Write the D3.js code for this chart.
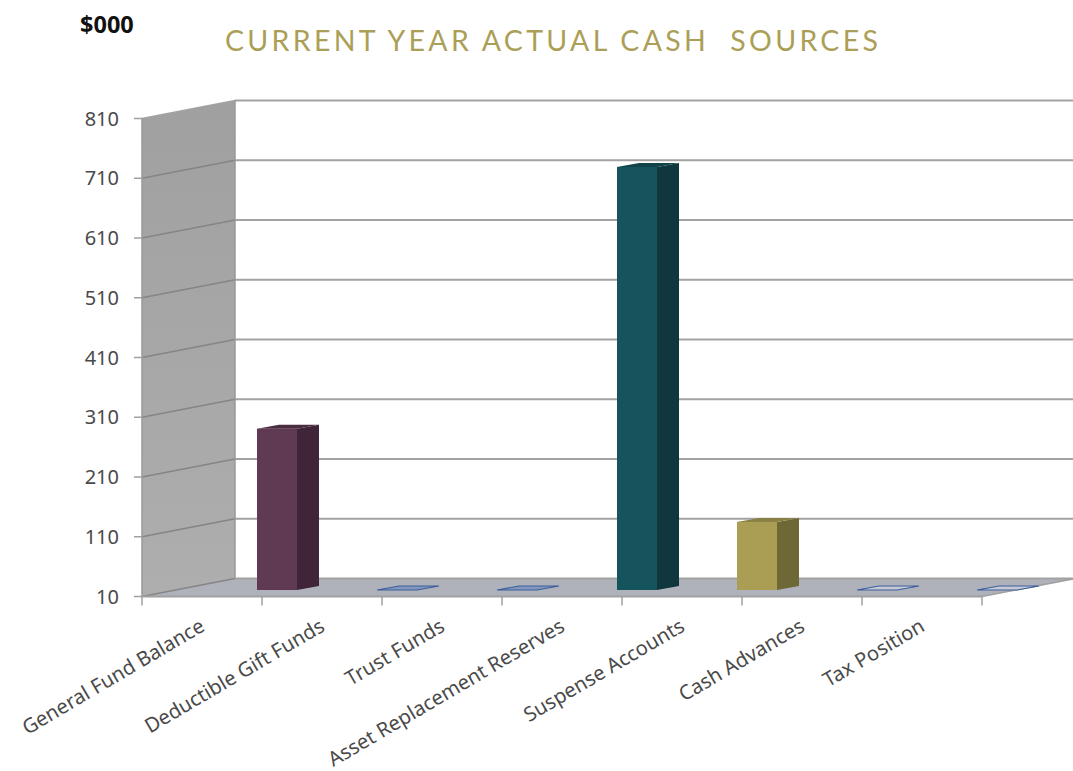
<!DOCTYPE html>
<html>
<head>
<meta charset="utf-8">
<style>
html,body{margin:0;padding:0;background:#fff}
svg{display:block}
</style>
<script src="https://cdn.jsdelivr.net/npm/d3@7"></script>
</head>
<body>
<svg id="chart" width="1073" height="771"></svg>
<script>
// Chart content
const categories = ["General Fund Balance","Deductible Gift Funds","Trust Funds","Asset Replacement Reserves","Suspense Accounts","Cash Advances","Tax Position"];
const values = [280, 0, 0, 718, 124, 0, 0];
const frontColors = ["#5f3a52","#5a7fb8","#5a7fb8","#15545c","#aa9e54","#f2f4f8","#f2f4f8"];
const sideColors = ["#3f2537","#3a5f9c","#3a5f9c","#0f373d","#6e6837","#3a5f9c","#3a5f9c"];
const topColors = ["#4b2d41","#3a5f9c","#3a5f9c","#10434a","#8a8045","#3a5f9c","#3a5f9c"];
const tickValues = [10,110,210,310,410,510,610,710,810];
const chartTitle = "CURRENT YEAR ACTUAL CASH  SOURCES";
const unitLabel = "$000";

// Oblique projection of the 3D box
const width = 1073, plotLeft = 142, plotRight = 982, baseY = 596.5, topY = 118.5;
const wallDx = 93, wallDy = -18;      // back wall offset from the front plane
const barDx = 22, barDy = -4;         // depth of each column
const barShiftX = 115, barShiftY = -6.5, barW = 40; // column seat within its band

const svg = d3.select("#chart");
const x = d3.scaleBand().domain(categories).range([plotLeft, plotRight]);
const y = d3.scaleLinear().domain([10, 810]).range([baseY, topY]).clamp(true);
const gridColor = "#a2a2a2";
const poly = pts => pts.map(p => p.join(",")).join(" ");

// Side wall shading runs slightly lighter toward the floor
const wallGrad = svg.append("defs").append("linearGradient")
  .attr("id", "wallShade").attr("x1", 0).attr("y1", 0).attr("x2", 0).attr("y2", 1);
wallGrad.append("stop").attr("offset", 0).attr("stop-color", "#a0a0a0");
wallGrad.append("stop").attr("offset", 1).attr("stop-color", "#aeaeae");

// Side wall and floor
svg.append("polygon").attr("fill", "url(#wallShade)")
  .attr("points", poly([[plotLeft, topY],[plotLeft + wallDx, topY + wallDy],[plotLeft + wallDx, baseY + wallDy],[plotLeft, baseY]]));
svg.append("polygon").attr("fill", "#b0b2bb")
  .attr("points", poly([[plotLeft, baseY],[plotRight, baseY],[plotRight + wallDx, baseY + wallDy],[plotLeft + wallDx, baseY + wallDy]]));

// Gridlines: along the wall, then across the back
const grid = svg.append("g").attr("fill", "none");
grid.selectAll(".back").data(tickValues).join("line").attr("class", "back")
  .attr("stroke", gridColor).attr("stroke-width", 2)
  .attr("x1", plotLeft + wallDx).attr("x2", width)
  .attr("y1", d => y(d) + wallDy).attr("y2", d => y(d) + wallDy);
grid.selectAll(".wall").data(tickValues).join("line").attr("class", "wall")
  .attr("stroke", d => d === 810 ? gridColor : "#858585").attr("stroke-width", 1.6)
  .attr("x1", plotLeft).attr("x2", plotLeft + wallDx)
  .attr("y1", d => y(d)).attr("y2", d => y(d) + wallDy);
grid.append("line").attr("x1", plotLeft + wallDx).attr("x2", plotLeft + wallDx)
  .attr("y1", topY + wallDy).attr("y2", baseY + wallDy).attr("stroke-width", 1.5).attr("stroke", "#999");
grid.append("line").attr("x1", plotLeft).attr("x2", plotLeft)
  .attr("y1", topY).attr("y2", baseY).attr("stroke-width", 1.5).attr("stroke", "#999");

// Front floor edge and axis ticks
const axisG = svg.append("g").attr("stroke", "#a0a0a0").attr("fill", "none");
axisG.append("line").attr("x1", plotLeft).attr("x2", plotRight).attr("y1", baseY).attr("y2", baseY).attr("stroke-width", 2);
axisG.append("line").attr("x1", plotRight).attr("y1", baseY).attr("x2", plotRight + wallDx).attr("y2", baseY + wallDy).attr("stroke-width", 1.5);
axisG.selectAll(".ytick").data(tickValues).join("line").attr("class", "ytick")
  .attr("x1", plotLeft - 8).attr("x2", plotLeft).attr("y1", d => y(d)).attr("y2", d => y(d)).attr("stroke-width", 1.5);
const xTicks = categories.map(c => x(c)).concat(plotRight);
axisG.selectAll(".xtick").data(xTicks).join("line").attr("class", "xtick")
  .attr("x1", d => d).attr("x2", d => d).attr("y1", baseY).attr("y2", baseY + 9).attr("stroke-width", 1.5);

// Columns: front, side and top faces
const bars = svg.append("g").selectAll("g").data(categories).join("g");
bars.each(function(c, i) {
  const g = d3.select(this);
  const x0 = x(c) + barShiftX, x1 = x0 + barW;
  const yb = baseY + barShiftY, yt = y(values[i]) + barShiftY;
  const flat = yb - yt < 0.5;
  if (flat) {
    g.append("polygon")
      .attr("points", poly([[x0, yb],[x1, yb],[x1 + barDx, yb + barDy],[x0 + barDx, yb + barDy]]))
      .attr("fill", i >= 5 ? "#c6c9d4" : "#8497bd")
      .attr("stroke", sideColors[i]).attr("stroke-width", 1.2);
    return;
  }
  g.append("polygon").attr("fill", sideColors[i])
    .attr("points", poly([[x1, yb],[x1 + barDx, yb + barDy],[x1 + barDx, yt + barDy],[x1, yt]]));
  g.append("polygon").attr("fill", topColors[i])
    .attr("points", poly([[x0, yt],[x1, yt],[x1 + barDx, yt + barDy],[x0 + barDx, yt + barDy]]));
  g.append("rect").attr("x", x0).attr("y", yt).attr("width", barW).attr("height", yb - yt).attr("fill", frontColors[i]);
});

// Value axis labels
const labelFont = "'Noto Sans', sans-serif";
svg.append("g").selectAll("text").data(tickValues).join("text")
  .attr("x", plotLeft - 23).attr("y", d => y(d) + 7)
  .attr("text-anchor", "end").attr("fill", "#4a4a4a")
  .attr("font-family", labelFont).attr("font-size", 20)
  .text(d => d);

// Category labels, rotated
svg.append("g").selectAll("text").data(categories).join("text")
  .attr("transform", c => `translate(${x(c) + 64},${630}) rotate(-30.5)`)
  .attr("text-anchor", "end").attr("fill", "#4a4a4a")
  .attr("font-family", labelFont).attr("font-size", 20.2)
  .text(c => c);

// Headings
svg.append("text").attr("x", 225).attr("y", 51)
  .attr("fill", "#ab9f57").attr("font-family", "Lato, sans-serif").attr("font-size", 28.5)
  .attr("letter-spacing", 3.3).style("white-space", "pre")
  .text(chartTitle);
svg.append("text").attr("x", 80).attr("y", 33)
  .attr("fill", "#111").attr("font-family", labelFont).attr("font-weight", 700).attr("font-size", 23.5)
  .text(unitLabel);
</script>
</body>
</html>
